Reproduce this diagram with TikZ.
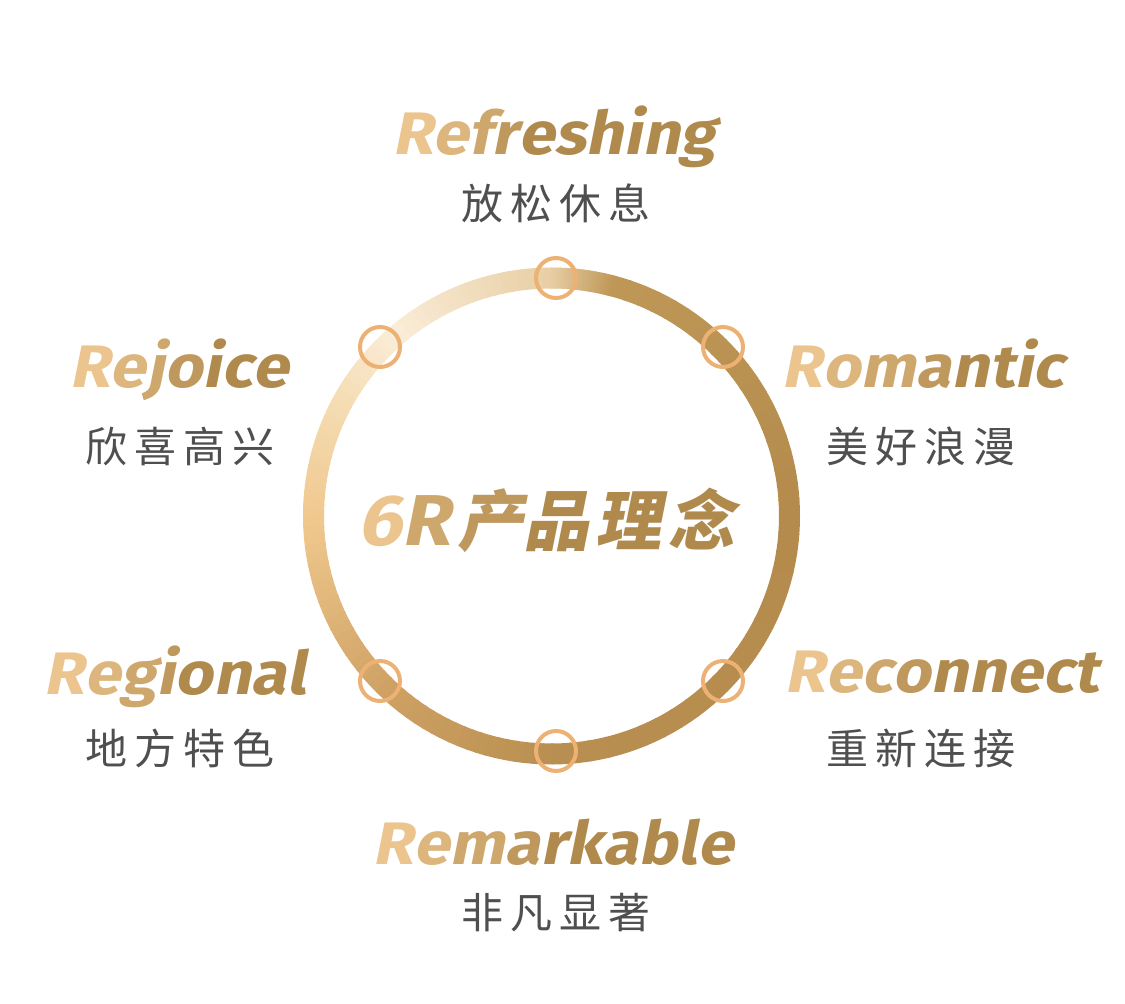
\documentclass[tikz,border=0pt]{standalone}
\usepackage{fontspec}
\setmainfont{Fira Sans}
\newfontfamily\wordfont[FakeSlant=0.2,FakeStretch=1.09]{Fira Sans}
\newfontfamily\cjk[LetterSpace=17]{Noto Sans CJK SC}
\newfontfamily\cjkhead[FakeSlant=0.2,LetterSpace=10]{Noto Sans CJK SC}
\definecolor{goldlight}{HTML}{EBC48E}
\definecolor{golddark}{HTML}{B08A4C}
\definecolor{ringa}{HTML}{B48B4C}
\definecolor{ringb}{HTML}{BF9858}
\definecolor{ringc}{HTML}{E8CFA5}
\definecolor{ringd}{HTML}{FBEDD9}
\definecolor{ringe}{HTML}{F5DDB5}
\definecolor{ringf}{HTML}{F0C88E}
\definecolor{ringg}{HTML}{CFA264}
\definecolor{ringh}{HTML}{B88F50}
\definecolor{dotring}{HTML}{EDB173}
\definecolor{captiongrey}{HTML}{4F4F4F}
\newcommand{\goldword}[1]{\foreach \ch [count=\i] in {#1}{\pgfmathtruncatemacro{\mixval}{max(0,100-25*(\i-1))}\textcolor{goldlight!\mixval!golddark}{\ch}}}
\tikzset{
  word/.style={anchor=base, inner sep=0pt, font=\fontsize{60}{60}\selectfont\wordfont\bfseries},
  caption/.style={inner sep=0pt, text=captiongrey, font=\fontsize{42}{42}\selectfont\cjk},
  dot/.style={circle, draw=dotring, line width=4pt, minimum size=40pt, inner sep=0pt}
}
\begin{document}
\begin{tikzpicture}[x=1pt, y=1pt]
    \useasboundingbox (0, 0) rectangle (1125, 1004);
    \coordinate (centre) at (551.5, 488);
    % ring
    \foreach \sa/\ea/\ca/\cb in {0/75/ringa/ringb, 75/90/ringb/ringc, 90/130/ringc/ringd,
        130/150/ringd/ringe, 150/180/ringe/ringf, 180/225/ringf/ringg,
        225/270/ringg/ringh, 270/360/ringh/ringa} {
        \foreach \p in {0, 5, ..., 95} {
            \pgfmathsetmacro{\ang}{\sa + (\ea - \sa) * \p / 100}
            \pgfmathsetmacro{\angend}{\ang + (\ea - \sa) / 20 + 0.4}
            \draw[\cb!\p!\ca, line width=21pt] (centre) ++(\ang:238)
                arc[start angle=\ang, end angle=\angend, radius=238];
        }
    }
    \node[dot] (dottop) at (556, 726) {};
    \node[dot] (dotright) at (723, 657) {};
    \node[dot] (dotlowright) at (723, 323) {};
    \node[dot] (dotbottom) at (556, 253) {};
    \node[dot] (dotlowleft) at (380, 323) {};
    \node[dot] (dotleft) at (380, 657) {};
    % labels
    \node[word] (refreshing) at (554, 849) {\goldword{R,e,f,r,e,s,h,i,n,g}};
    \node[caption] (refreshingcn) at (556, 801) {放松休息};
    \node[word] (rejoice) at (179, 616) {\goldword{R,e,j,o,i,c,e}};
    \node[caption] (rejoicecn) at (180, 557) {欣喜高兴};
    \node[word] (romantic) at (923, 616) {\goldword{R,o,m,a,n,t,i,c}};
    \node[caption] (romanticcn) at (921, 557) {美好浪漫};
    \node[word] (regional) at (175, 309) {\goldword{R,e,g,i,o,n,a,l}};
    \node[caption] (regionalcn) at (180, 256) {地方特色};
    \node[word] (reconnect) at (942, 311) {\goldword{R,e,c,o,n,n,e,c,t}};
    \node[caption] (reconnectcn) at (921, 255) {重新连接};
    \node[word] (remarkable) at (553, 139) {\goldword{R,e,m,a,r,k,a,b,l,e}};
    \node[caption] (remarkablecn) at (556, 91) {非凡显著};
    % title
    \node[inner sep=0pt, font=\fontsize{66}{66}\selectfont\bfseries] (title) at (546, 484)
        {{\wordfont\fontsize{72}{72}\selectfont\textcolor{goldlight}{6}\textcolor{goldlight!50!golddark}{R}}\hspace{7pt}\cjkhead\textcolor{goldlight!25!golddark}{产}\textcolor{golddark}{品理念}};
\end{tikzpicture}
\end{document}
